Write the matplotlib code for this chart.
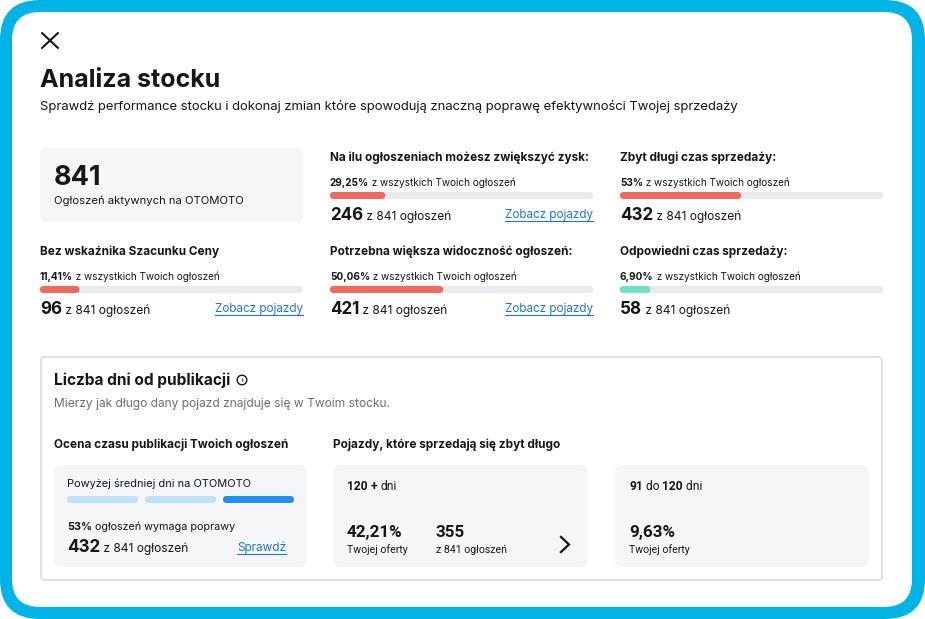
import matplotlib.pyplot as plt
from matplotlib.patches import FancyBboxPatch, Circle

# data
total_listings = 841
metric_titles = ["Na ilu ogłoszeniach możesz zwiększyć zysk:", "Zbyt długi czas sprzedaży:",
                 "Bez wskaźnika Szacunku Ceny", "Potrzebna większa widoczność ogłoszeń:",
                 "Odpowiedni czas sprzedaży:"]
metric_pct = ["29,25%", "53%", "11,41%", "50,06%", "6,90%"]
metric_counts = [246, 432, 96, 421, 58]
metric_bar_share = [0.21, 0.46, 0.15, 0.43, 0.115]   # filled part of each bar, as drawn
metric_good = [False, False, False, False, True]
metric_link = [True, False, True, True, False]
metric_cell = [(1, 0), (2, 0), (0, 1), (1, 1), (2, 1)]  # (column, row)

segment_names = ["niżej", "średnio", "powyżej"]
segment_active = 2
slow_pct = "53%"
slow_count = 432
bucket_from = ["120", "91"]
bucket_to = [None, "120"]
bucket_share = ["42,21%", "9,63%"]
bucket_count = [355, None]

W, H = 925, 619
FONT = ["Inter", "DejaVu Sans"]
FONT2 = ["Roboto", "DejaVu Sans"]
INK = "#161616"
LINK = "#1f74d4"
RED = "#ef6a5a"
GREEN = "#72dfc2"
TRACK = "#ebebef"
CARD = "#f5f6f8"
CYAN = "#00b4e8"
PX = 0.72  # points per pixel at dpi 100

fig = plt.figure(figsize=(W / 100, H / 100), dpi=100)
ax = fig.add_axes([0, 0, 1, 1])
ax.set_xlim(0, W)
ax.set_ylim(H, 0)
ax.axis("off")
rend = fig.canvas.get_renderer()


def box(x, y, w, h, r, fc, ec="none", lw=0, z=1):
    ax.add_patch(FancyBboxPatch((x, y), w, h, boxstyle=f"round,pad=0,rounding_size={r}",
                                fc=fc, ec=ec, lw=lw, zorder=z))


def txt(x, y, s, size, weight="normal", color=INK, ha="left", font=FONT):
    return ax.text(x, y, s, fontsize=size * PX, fontweight=weight, color=color,
                   ha=ha, va="baseline", family=font, zorder=5)


def runs(x, y, parts, font=FONT):
    for s, size, weight in parts:
        t = txt(x, y, s, size, weight, font=font)
        x += t.get_window_extent(rend).width
    return x


def link(x, y, s, size):
    t = txt(x, y, s, size, color=LINK, ha="right")
    w = t.get_window_extent(rend).width
    ax.plot([x - w, x], [y + 2.5, y + 2.5], color=LINK, lw=0.8, zorder=5)


def bar(x, y, w, share, color, h=7):
    box(x, y, w, h, h / 2, TRACK, z=2)
    box(x, y, w * share, h, h / 2, color, z=3)


# frame
box(0, 0, W, H, 40, CYAN, z=0)
box(12, 12, W - 25, H - 24, 28, "white", z=0.5)

# close icon
ax.plot([42, 58], [33, 48], color=INK, lw=1.5, solid_capstyle="round", zorder=5)
ax.plot([58, 42], [33, 48], color=INK, lw=1.5, solid_capstyle="round", zorder=5)

txt(40, 87, "Analiza stocku", 25, "bold")
txt(40, 110, "Sprawdź performance stocku i dokonaj zmian które spowodują znaczną poprawę "
             "efektywności Twojej sprzedaży", 13.05)

# total card
box(40, 148, 263, 74, 6, CARD)
txt(54, 185, str(total_listings), 27, "bold")
txt(54, 204, "Ogłoszeń aktywnych na OTOMOTO", 11.3)

col_x = [40, 330, 620]
row_y = [161, 255]
bw = 263
for title, pct, cnt, share, good, has_link, (c, r) in zip(
        metric_titles, metric_pct, metric_counts, metric_bar_share, metric_good,
        metric_link, metric_cell):
    x, y = col_x[c], row_y[r]
    txt(x, y, title, 11.8, "bold")
    runs(x, y + 25, [(pct, 10, "bold"), (" z wszystkich Twoich ogłoszeń", 10, "normal")])
    bar(x, y + 31, bw, share, GREEN if good else RED)
    runs(x, y + 59, [(str(cnt), 17, "bold"), (f" z {total_listings} ogłoszeń", 12, "normal")])
    if has_link:
        link(x + bw, y + 57, "Zobacz pojazdy", 11.6)

# publication-age section
box(41, 357, 841, 223, 3, "white", ec="#dcdcdc", lw=1.2)
txt(54, 385, "Liczba dni od publikacji", 15.4, "bold")
ax.add_patch(Circle((242, 380), 4.8, fc="none", ec=INK, lw=1.0, zorder=5))
ax.text(242, 380.5, "i", fontsize=6 * PX, fontweight="bold", ha="center", va="center",
        family=FONT, color=INK, zorder=5)
txt(54, 407, "Mierzy jak długo dany pojazd znajduje się w Twoim stocku.", 12, color="#6f6f6f")

txt(54, 448, "Ocena czasu publikacji Twoich ogłoszeń", 11.8, "bold")
txt(333, 448, "Pojazdy, które sprzedają się zbyt długo", 11.8, "bold")

box(54, 465, 253, 102, 8, CARD)
txt(67, 487, "Powyżej średniej dni na OTOMOTO", 11)
for i, name in enumerate(segment_names):
    box(67 + i * 78, 496, 71, 7, 3.5, "#1f90f0" if i == segment_active else "#bfe2f8", z=3)
runs(67, 530, [(slow_pct, 10.8, "bold"), (" ogłoszeń wymaga poprawy", 10.8, "normal")])
runs(67, 552, [(str(slow_count), 17, "bold"), (f" z {total_listings} ogłoszeń", 12, "normal")])
link(286, 551, "Sprawdź", 11.8)

card_x = [333, 615]
for cx, lo, hi, share, cnt in zip(card_x, bucket_from, bucket_to, bucket_share, bucket_count):
    box(cx, 465, 255, 102, 8, CARD)
    if hi is None:
        parts = [(lo, 12, "bold"), (" + ", 12, "bold"), ("dni", 12, "normal")]
    else:
        parts = [(lo, 12, "bold"), (" do ", 12, "normal"), (hi, 12, "bold"), (" dni", 12, "normal")]
    runs(cx + 14, 490, parts, font=FONT2)
    txt(cx + 14, 537, share, 17, "bold", font=FONT2)
    txt(cx + 14, 553, "Twojej oferty", 10.5, font=FONT2)
    if cnt is not None:
        txt(cx + 103, 537, str(cnt), 17, "bold", font=FONT2)
        txt(cx + 103, 553, f"z {total_listings} ogłoszeń", 10.5, font=FONT2)
        ax.plot([cx + 228, cx + 236, cx + 228], [537, 544.5, 552], color=INK, lw=1.6,
                solid_joinstyle="miter", zorder=5)

fig.savefig("out.png", dpi=100)
